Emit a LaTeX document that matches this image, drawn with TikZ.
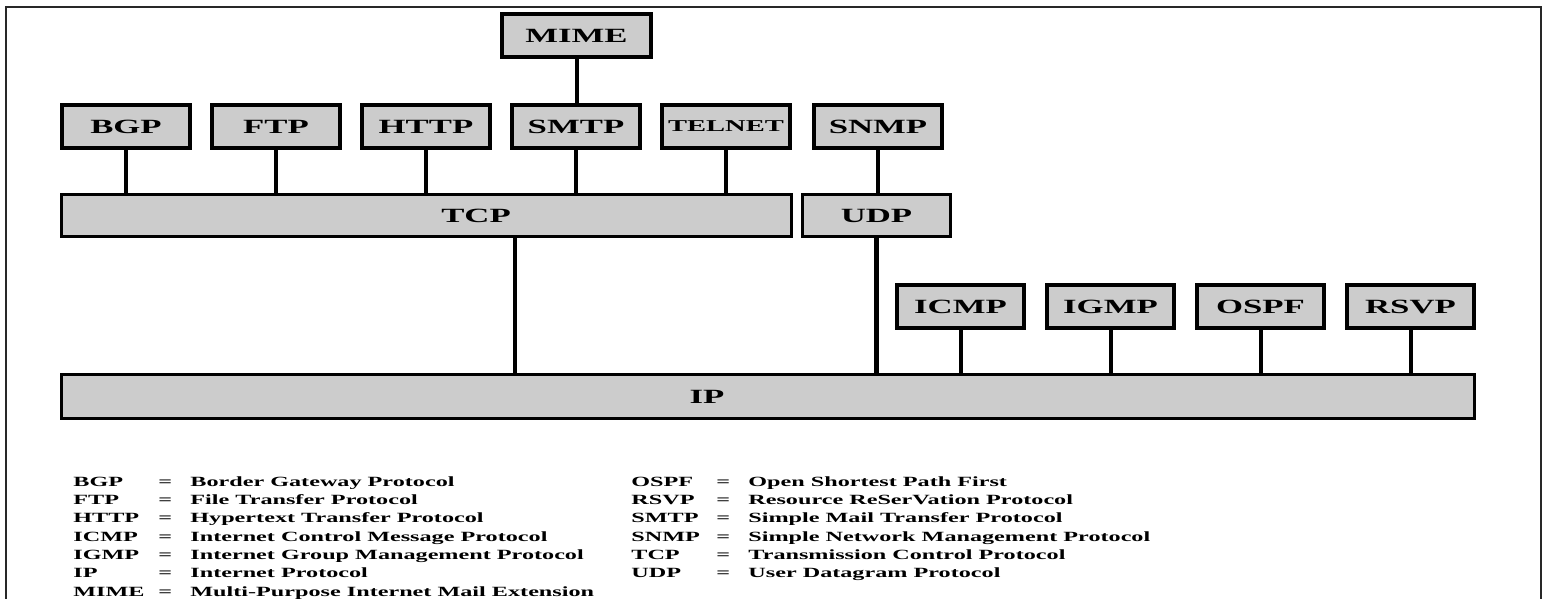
\documentclass[tikz,border=0pt]{standalone}
\usepackage{fontspec}
\usepackage{tikz}
\usetikzlibrary{positioning,calc}
\newfontfamily\protofont{Liberation Serif}[FakeStretch=1.72]
\definecolor{boxgray}{RGB}{204,204,204}
\definecolor{framegray}{RGB}{40,40,40}
\newcommand{\abbrrow}[2]{\makebox[42.5pt][l]{#1}\makebox[16pt][l]{=}#2}

\begin{document}
\begin{tikzpicture}[x=0.5pt,y=-0.5pt,
  proto/.style={draw,fill=boxgray,line width=2.2pt,inner sep=0pt,
                minimum width=63.8pt,minimum height=21.3pt,
                font=\protofont\bfseries\fontsize{10.1}{12}\selectfont},
  bar/.style={draw,fill=boxgray,line width=1.6pt,inner sep=0pt,
              font=\protofont\bfseries\fontsize{10.1}{12}\selectfont},
  link/.style={line width=2pt},
  trunk/.style={line width=2.4pt},
  legend/.style={anchor=base west,inner sep=0pt,
                 font=\protofont\bfseries\fontsize{7.03}{9.2}\selectfont}
]
\useasboundingbox (0,0) rectangle (1548,599);

% Outer frame
\draw[framegray,line width=1pt] (6,599) -- (6,7) -- (1541,7) -- (1541,599);

% Application protocols
\node[proto] (bgp) at (126,126.5) {BGP};
\node[proto,right=9pt of bgp] (ftp) {FTP};
\node[proto,right=9pt of ftp] (http) {HTTP};
\node[proto,right=9pt of http] (smtp) {SMTP};
\node[proto,right=9pt of smtp,font=\protofont\bfseries\fontsize{8.3}{10}\selectfont] (telnet) {TELNET};
\node[proto,right=10pt of telnet] (snmp) {SNMP};
\node[proto,minimum width=74.3pt] (mime) at (576.5,35.5) {MIME};

% Transport layer
\node[bar,minimum width=364.9pt,minimum height=20.9pt] (tcp) at (426.5,215.5) {\hspace*{49.5pt}TCP};
\node[bar,minimum width=73.9pt,minimum height=20.9pt] (udp) at (876.5,215.5) {UDP};

% Internet layer
\node[proto,minimum width=63.3pt] (icmp) at (960.5,306.5) {ICMP};
\node[proto,minimum width=63.3pt,right=9.5pt of icmp] (igmp) {IGMP};
\node[proto,minimum width=63.3pt,right=9.5pt of igmp] (ospf) {OSPF};
\node[proto,minimum width=63.3pt,right=9.5pt of ospf] (rsvp) {RSVP};
\node[bar,minimum width=706.4pt,minimum height=21.9pt] (ip) at (768,396.5) {IP\hspace*{61pt}};

% Connectors
\draw[link] (mime.south) -- (mime.south |- smtp.north);
\draw[link] (bgp.south) -- (bgp.south |- tcp.north);
\draw[link] (ftp.south) -- (ftp.south |- tcp.north);
\draw[link] (http.south) -- (http.south |- tcp.north);
\draw[link] (smtp.south) -- (smtp.south |- tcp.north);
\draw[link] (telnet.south) -- (telnet.south |- tcp.north);
\draw[link] (snmp.south) -- (snmp.south |- udp.north);
\draw[trunk] ([xshift=44.25pt]tcp.south) -- ([xshift=44.25pt]tcp.south |- ip.north);
\draw[trunk] (udp.south) -- (udp.south |- ip.north);
\draw[link] (icmp.south) -- (icmp.south |- ip.north);
\draw[link] (igmp.south) -- (igmp.south |- ip.north);
\draw[link] (ospf.south) -- (ospf.south |- ip.north);
\draw[link] (rsvp.south) -- (rsvp.south |- ip.north);

% Legend
\node[legend] (lbgp) at (73,486) {\abbrrow{BGP}{Border Gateway Protocol}};
\node[legend] (lftp) at (73,504.3) {\abbrrow{FTP}{File Transfer Protocol}};
\node[legend] (lhttp) at (73,522.7) {\abbrrow{HTTP}{Hypertext Transfer Protocol}};
\node[legend] (licmp) at (73,541) {\abbrrow{ICMP}{Internet Control Message Protocol}};
\node[legend] (ligmp) at (73,559.3) {\abbrrow{IGMP}{Internet Group Management Protocol}};
\node[legend] (lip) at (73,577.7) {\abbrrow{IP}{Internet Protocol}};
\node[legend] (lmime) at (73,596) {\abbrrow{MIME}{Multi-Purpose Internet Mail Extension}};
\node[legend] (lospf) at (631,486) {\abbrrow{OSPF}{Open Shortest Path First}};
\node[legend] (lrsvp) at (631,504.3) {\abbrrow{RSVP}{Resource ReSerVation Protocol}};
\node[legend] (lsmtp) at (631,522.7) {\abbrrow{SMTP}{Simple Mail Transfer Protocol}};
\node[legend] (lsnmp) at (631,541) {\abbrrow{SNMP}{Simple Network Management Protocol}};
\node[legend] (ltcp) at (631,559.3) {\abbrrow{TCP}{Transmission Control Protocol}};
\node[legend] (ludp) at (631,577.7) {\abbrrow{UDP}{User Datagram Protocol}};
\end{tikzpicture}
\end{document}
